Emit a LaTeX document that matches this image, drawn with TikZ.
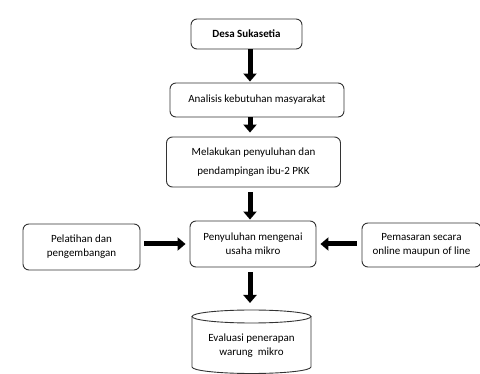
\documentclass[tikz,border=0pt]{standalone}
\usepackage{fontspec}
\setmainfont{Carlito}
\usetikzlibrary{arrows.meta}
\tikzset{
  box/.style={draw=black!80, line width=0.9pt, rounded corners=6pt, fill=white, align=center, inner sep=0pt, font=\fontsize{11}{14}\selectfont},
  bigarrow/.style={line width=5pt, -{Triangle[length=8pt,width=13pt]}, black},
  cyl/.style={draw=black!80, line width=0.9pt}
}
\begin{document}
\begin{tikzpicture}[x=1pt,y=-1pt]
\useasboundingbox (0,0) rectangle (480,374);
\node[box, minimum width=111pt, minimum height=30pt] (desa) at (246.5,34) {\textbf{Desa Sukasetia}};
\node[box, minimum width=174pt, minimum height=34pt] (anal) at (257,100) {Analisis kebutuhan masyarakat};
\node[box, minimum width=174pt, minimum height=50pt, font=\fontsize{11}{19}\selectfont] (melak) at (253.5,162) {Melakukan penyuluhan dan\\pendampingan ibu-2 PKK};
\node[box, minimum width=126pt, minimum height=46pt] (peny) at (253,244) {Penyuluhan mengenai\\usaha mikro};
\node[box, minimum width=117pt, minimum height=46pt] (pelat) at (81.5,247) {Pelatihan dan\\pengembangan};
\node[box, minimum width=119pt, minimum height=44pt] (pemas) at (421.5,245) {Pemasaran secara\\online maupun of line};
% cylinder
\draw[cyl] (192,316.5) -- (192,367) arc[start angle=180, end angle=0, x radius=59.5, y radius=6.5] -- (311,316.5);
\draw[cyl] (251.5,316.5) ellipse [x radius=59.5, y radius=6.5];
\coordinate (cyltop) at (250,310);
\node[align=center, inner sep=0pt, font=\fontsize{11}{14}\selectfont] (eval) at (251.5,346) {Evaluasi penerapan\\warung\ \ mikro};
% arrows
\coordinate (ax) at (250,0);
\coordinate (ay) at (0,244);
\draw[bigarrow, shorten >=1pt] (desa.south -| ax) -- (anal.north -| ax);
\draw[bigarrow, shorten >=4pt] (anal.south -| ax) -- (melak.north -| ax);
\draw[bigarrow, shorten <=5pt, shorten >=1pt] (melak.south -| ax) -- (peny.north -| ax);
\draw[bigarrow, shorten <=5pt, shorten >=7pt] (peny.south -| ax) -- (cyltop);
\draw[bigarrow, shorten <=4pt, shorten >=4pt] (pelat.east |- ay) -- (peny.west |- ay);
\draw[bigarrow, shorten <=5pt, shorten >=4pt] (pemas.west |- ay) -- (peny.east |- ay);
\end{tikzpicture}
\end{document}
